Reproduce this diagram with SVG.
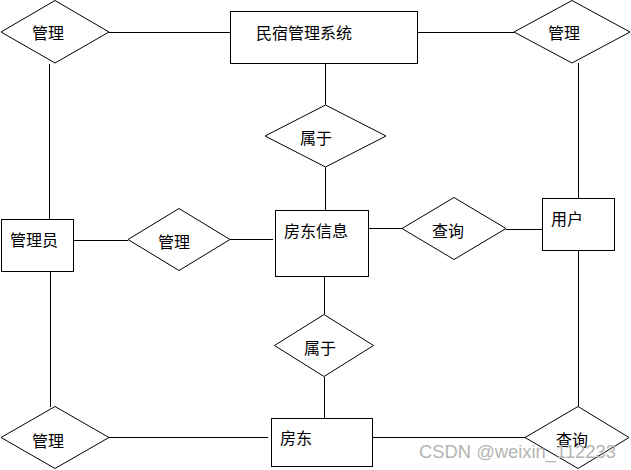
<svg xmlns="http://www.w3.org/2000/svg" width="631" height="470" viewBox="0 0 631 470">
<style>
.s{fill:#fff;stroke:#000;stroke-width:1}
.c{stroke:#000;stroke-width:1;fill:none}
.t{font-family:"Noto Sans CJK SC","Noto Sans",sans-serif;font-size:16px;fill:#000}
.w{font-family:"Liberation Sans",Arial,sans-serif;font-size:18px;fill:#b4b4b4}
</style>
<rect width="631" height="470" fill="#fff"/>
<g id="connectors">
<line class="c" x1="109" y1="32.5" x2="230" y2="32.5"/>
<line class="c" x1="418" y1="32.5" x2="514" y2="32.5"/>
<line class="c" x1="49.5" y1="64" x2="49.5" y2="219"/>
<line class="c" x1="50.5" y1="271" x2="50.5" y2="407"/>
<line class="c" x1="325.5" y1="63" x2="325.5" y2="105"/>
<line class="c" x1="325.5" y1="167" x2="325.5" y2="210"/>
<line class="c" x1="324.5" y1="276" x2="324.5" y2="314"/>
<line class="c" x1="324.5" y1="377" x2="324.5" y2="418"/>
<line class="c" x1="578.5" y1="63" x2="578.5" y2="198"/>
<line class="c" x1="578.5" y1="250" x2="578.5" y2="406"/>
<line class="c" x1="73" y1="240.5" x2="128" y2="240.5"/>
<line class="c" x1="230" y1="239.5" x2="273" y2="239.5"/>
<line class="c" x1="367" y1="228.5" x2="402" y2="228.5"/>
<line class="c" x1="506" y1="229.5" x2="542" y2="229.5"/>
<line class="c" x1="109" y1="437.5" x2="268" y2="437.5"/>
<line class="c" x1="373" y1="437.5" x2="525" y2="437.5"/>
</g>
<g id="sys"><rect class="s" x="230.5" y="11.5" width="187" height="52"/><text class="t" x="256" y="39">民宿管理系统</text></g>
<g id="rel_tl"><polygon class="s" points="1,32 55,0.5 109,32 55,63"/><text class="t" x="32" y="39">管理</text></g>
<g id="rel_tr"><polygon class="s" points="514,32 572,0.5 630,32 572,63"/><text class="t" x="548" y="39">管理</text></g>
<g id="rel_belong1"><polygon class="s" points="265,136 325.5,105 386,136 325.5,167"/><text class="t" x="300" y="144">属于</text></g>
<g id="admin"><rect class="s" x="1.5" y="219.5" width="72" height="52"/><text class="t" x="10" y="246">管理员</text></g>
<g id="rel_manage"><polygon class="s" points="128,239.5 179,208.5 230,239.5 179,270.5"/><text class="t" x="158" y="248">管理</text></g>
<g id="landlord_info"><rect class="s" x="275.5" y="210.5" width="93" height="66"/><text class="t" x="284" y="237">房东信息</text></g>
<g id="rel_query1"><polygon class="s" points="402,228.5 454,197.5 506,228.5 454,259.5"/><text class="t" x="432" y="237">查询</text></g>
<g id="user"><rect class="s" x="542.5" y="198.5" width="72" height="52"/><text class="t" x="551" y="225">用户</text></g>
<g id="rel_belong2"><polygon class="s" points="274.5,345.5 324,314.5 373.5,345.5 324,376.5"/><text class="t" x="304" y="354">属于</text></g>
<g id="rel_bl"><polygon class="s" points="1,437.5 55,406.5 109,437.5 55,468.5"/><text class="t" x="32" y="447">管理</text></g>
<g id="landlord"><rect class="s" x="271.5" y="418.5" width="101" height="48"/><text class="t" x="280" y="444">房东</text></g>
<g id="rel_br"><polygon class="s" points="525,437.5 578,406.5 629,437.5 578,468.5"/><text class="t" x="556" y="446">查询</text></g>
<text class="w" x="419" y="458" textLength="197" lengthAdjust="spacingAndGlyphs">CSDN @weixin_112233</text>
</svg>
